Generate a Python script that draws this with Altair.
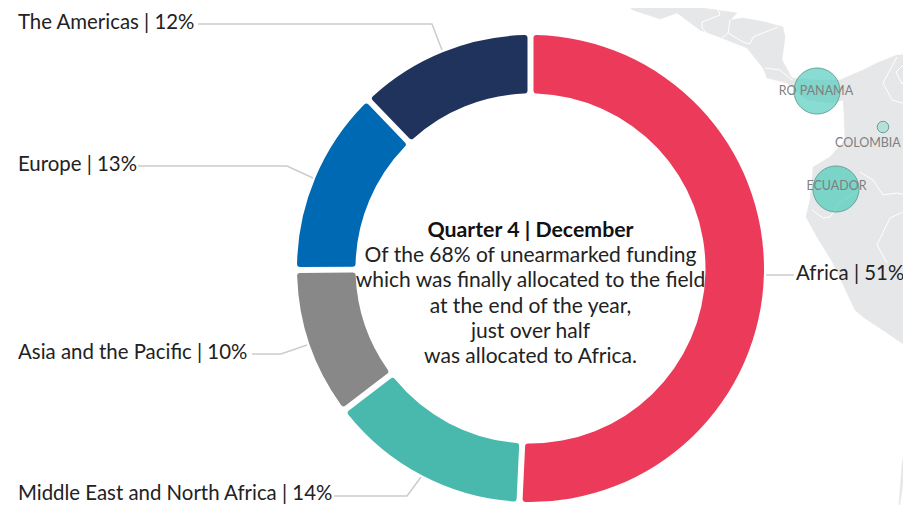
import altair as alt
import pandas as pd

# --- donut values
regions = ["Africa", "Middle East and North Africa", "Asia and the Pacific", "Europe", "The Americas"]
shares = [50.75, 13.9, 10.25, 12.9, 12.2]
colors = ["#ec3b5a", "#4ab9ad", "#888888", "#0069b4", "#1f335c"]
center_x = [530.5]
center_y = [268.5]

# --- labels
label_text = ["Africa | 51%", "Middle East and North Africa | 14%", "Asia and the Pacific | 10%", "Europe | 13%", "The Americas | 12%"]
label_x = [796, 18, 18, 18, 18]
label_y = [273.5, 493.5, 352.5, 164.5, 22.5]

center_lines = [
    "Quarter 4 | December",
    "Of the 68% of unearmarked funding",
    "which was finally allocated to the field",
    "at the end of the year,",
    "just over half",
    "was allocated to Africa.",
]
center_line_y = [231, 255.5, 281, 306.5, 331.5, 356.5]
center_line_bold = [True, False, False, False, False, False]

# --- leader lines
leaders = {
    "Americas": [(198, 24), (432, 24), (442, 50)],
    "Europe": [(138, 166), (287, 166), (313, 178)],
    "Asia": [(252, 354), (281, 354), (307, 345)],
    "MENA": [(334, 496), (407, 496), (421, 477)],
    "Africa": [(766, 275), (794, 275)],
}

# --- map background (page coordinates)
land_main = [
    (613, -5), (633, 10), (660, 19), (677, 13), (700, 30), (722, 38), (747, 48), (763, 68), (767, 78),
    (787, 83), (807, 100), (833, 103), (843, 100), (844, 113), (845, 140), (830, 157), (813, 167),
    (812, 180), (810, 200), (806, 217), (817, 237), (833, 263), (847, 293), (855, 310), (863, 317),
    (890, 335), (915, 352), (915, 40), (902, 55), (897, 55), (877, 63), (863, 70), (840, 80),
    (815, 80), (792, 78), (782, 60), (785, 37), (783, 27), (765, 22), (743, 18), (730, 20),
    (737, 13), (738, -5),
]
land_south = [(915, 398), (910, 400), (908, 420), (905, 445), (902, 465), (900, 490), (898, 518), (915, 518)]
border_lines = [
    [(713, -5), (720, 15), (702, 22), (702, 28), (708, 34)],
    [(730, 20), (728, 33), (722, 38)],
    [(728, 33), (743, 42), (750, 44), (753, 37), (778, 27)],
    [(765, 68), (780, 70), (792, 80)],
    [(860, 172), (873, 180), (883, 195), (897, 193), (915, 197)],
    [(812, 210), (823, 218), (830, 217), (840, 202), (860, 190)],
    [(915, 205), (907, 210), (890, 218), (877, 245), (887, 263)],
    [(897, 57), (883, 83), (892, 100), (915, 107)],
    [(905, 63), (896, 72), (902, 84), (907, 76), (905, 63)],
]

# --- bubbles
bubble_x = [817, 883, 836]
bubble_y = [91, 127, 189]
bubble_radius = [26, 6.5, 26]
bubble_opacity = [0.7, 0.3, 0.75]
bubble_label = ["RO PANAMA", "COLOMBIA", "ECUADOR"]
bubble_label_x = [816, 835, 836.5]
bubble_label_y = [91, 143, 186]
bubble_label_align = ["center", "left", "center"]

W, H = 895, 497
xs = alt.Scale(domain=[8, 8 + W], range=[0, W], nice=False, zero=False)
ys = alt.Scale(domain=[8, 8 + H], range=[0, H], nice=False, zero=False)
X = lambda f: alt.X(f, type="quantitative", scale=xs, axis=None)
Y = lambda f: alt.Y(f, type="quantitative", scale=ys, axis=None)

proj = dict(type="identity", scale=1, translate=[-8, -8])


def ring(pts):
    return [[float(a), float(b)] for a, b in pts]


land_features = [
    {"type": "Feature", "properties": {}, "geometry": {"type": "Polygon", "coordinates": [ring(p)]}}
    for p in (land_main, land_south)
]
border_features = [
    {"type": "Feature", "properties": {}, "geometry": {"type": "LineString", "coordinates": ring(p)}}
    for p in border_lines
]

land = alt.Chart(alt.Data(values=land_features)).mark_geoshape(fill="#e6e7e8", stroke="#e6e7e8", strokeWidth=0.5).project(**proj)
borders = alt.Chart(alt.Data(values=border_features)).mark_geoshape(filled=False, stroke="#ffffff", strokeWidth=1).project(**proj)

bubbles_df = pd.DataFrame({
    "x": bubble_x, "y": bubble_y,
    "s": [3.14159 * r * r for r in bubble_radius],
    "o": bubble_opacity,
})
bubbles = alt.Chart(bubbles_df).mark_point(
    filled=False, fill="#57cdbd", stroke="#5c9c93", strokeWidth=1, strokeOpacity=0.9, opacity=1, shape="circle"
).encode(
    x=X("x"), y=Y("y"),
    size=alt.Size("s:Q", scale=None, legend=None),
    fillOpacity=alt.FillOpacity("o:Q", scale=None, legend=None),
)

bubble_texts = []
for t, x, y, a in zip(bubble_label, bubble_label_x, bubble_label_y, bubble_label_align):
    bubble_texts.append(
        alt.Chart(pd.DataFrame({"x": [x], "y": [y], "t": [t]}))
        .mark_text(font="Lato", fontSize=12.5, color="#808080", align=a, baseline="middle")
        .encode(x=X("x"), y=Y("y"), text="t:N")
    )

donut_df = pd.DataFrame({
    "region": regions, "share": shares, "idx": list(range(len(regions))),
    "cx": center_x * len(regions), "cy": center_y * len(regions),
})
donut = alt.Chart(donut_df).mark_arc(outerRadius=233.5, innerRadius=175, cornerRadius=3, padAngle=0.0205).encode(
    x=X("cx"), y=Y("cy"),
    theta=alt.Theta("share:Q", stack=True),
    order=alt.Order("idx:Q"),
    color=alt.Color("region:N", scale=alt.Scale(domain=regions, range=colors), legend=None),
)

leader_rows = []
for name, pts in leaders.items():
    for i, (a, b) in enumerate(pts):
        leader_rows.append({"name": name, "i": i, "x": a, "y": b})
leader_marks = alt.Chart(pd.DataFrame(leader_rows)).mark_line(color="#cccccc", strokeWidth=1.5).encode(
    x=X("x"), y=Y("y"), detail="name:N", order="i:Q"
)

labels = alt.Chart(pd.DataFrame({"x": label_x, "y": label_y, "t": label_text})).mark_text(
    font="Lato", fontSize=20.4, color="#222222", align="left", baseline="middle"
).encode(x=X("x"), y=Y("y"), text="t:N")

center_df = pd.DataFrame({
    "x": center_x * len(center_lines), "y": center_line_y, "t": center_lines, "b": center_line_bold,
})
center_regular = alt.Chart(center_df[~center_df.b]).mark_text(
    font="Lato", fontSize=21, color="#222222", align="center", baseline="middle"
).encode(x=X("x"), y=Y("y"), text="t:N")
center_bold = alt.Chart(center_df[center_df.b]).mark_text(
    font="Lato", fontSize=21.3, fontWeight="bold", color="#111111", align="center", baseline="middle"
).encode(x=X("x"), y=Y("y"), text="t:N")

chart = alt.layer(
    land, borders, bubbles, *bubble_texts, donut, leader_marks, labels, center_regular, center_bold
).properties(
    width=W, height=H, padding=0, autosize=alt.AutoSizeParams(type="none"), background="#ffffff"
).configure_view(stroke=None)

chart.save("out.html", embed_options={"renderer": "svg", "actions": False})
